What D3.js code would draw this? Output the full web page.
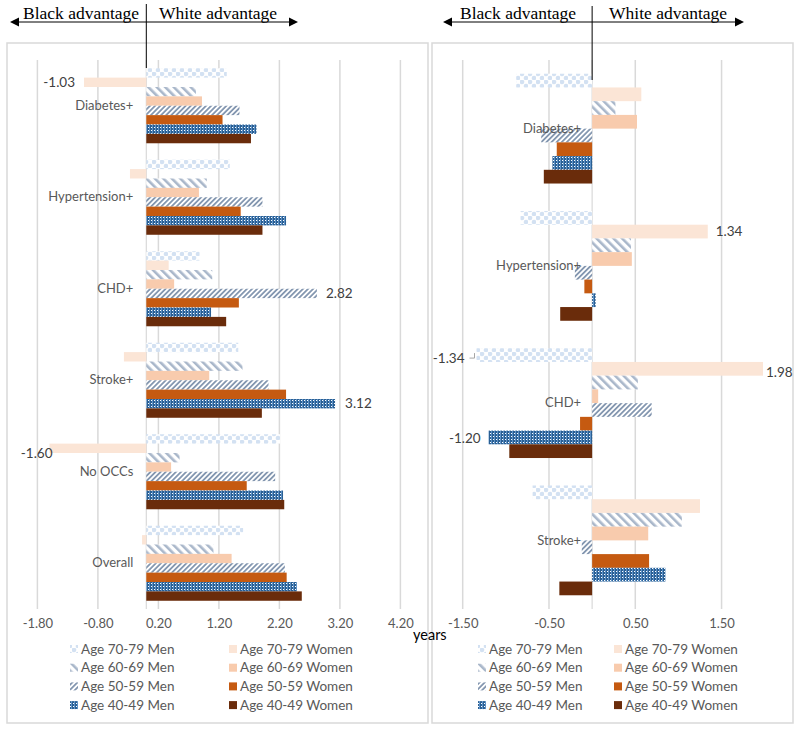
<!DOCTYPE html>
<html>
<head>
<meta charset="utf-8">
<script src="https://cdn.jsdelivr.net/npm/d3@7"></script>
<style>
  html, body { margin: 0; padding: 0; background: #fff; }
  svg { display: block; }
  text { font-family: "Lato", "Liberation Sans", sans-serif; }
</style>
</head>
<body>
<svg id="chart" width="800" height="731"></svg>
<script>
// ---------------- DATA ----------------
const seriesNames = ["Age 70-79 Men", "Age 70-79 Women", "Age 60-69 Men", "Age 60-69 Women",
                     "Age 50-59 Men", "Age 50-59 Women", "Age 40-49 Men", "Age 40-49 Women"];

const leftCategories  = ["Diabetes+", "Hypertension+", "CHD+", "Stroke+", "No OCCs", "Overall"];
const rightCategories = ["Diabetes+", "Hypertension+", "CHD+", "Stroke+"];

// Left panel values (years), one array per series, in leftCategories order
const leftMen7079   = [1.33, 1.38, 0.88, 1.52, 2.21, 1.60];
const leftWomen7079 = [-1.03, -0.27, 0.37, -0.37, -1.60, -0.07];
const leftMen6069   = [0.82, 1.00, 1.09, 1.59, 0.55, 1.11];
const leftWomen6069 = [0.92, 0.87, 0.46, 1.04, 0.41, 1.41];
const leftMen5059   = [1.54, 1.92, 2.82, 2.02, 2.13, 2.29];
const leftWomen5059 = [1.26, 1.56, 1.53, 2.31, 1.66, 2.32];
const leftMen4049   = [1.82, 2.31, 1.07, 3.12, 2.26, 2.49];
const leftWomen4049 = [1.73, 1.92, 1.32, 1.91, 2.28, 2.57];

// Right panel values (years), in rightCategories order
const rightMen7079   = [-0.88, -0.83, -1.34, -0.69];
const rightWomen7079 = [0.57, 1.34, 1.98, 1.25];
const rightMen6069   = [0.27, 0.45, 0.53, 1.04];
const rightWomen6069 = [0.52, 0.46, 0.07, 0.65];
const rightMen5059   = [-0.59, -0.20, 0.69, -0.12];
const rightWomen5059 = [-0.41, -0.09, -0.14, 0.66];
const rightMen4049   = [-0.46, 0.04, -1.20, 0.85];
const rightWomen4049 = [-0.56, -0.37, -0.96, -0.38];

const leftTicks  = [-1.8, -0.8, 0.2, 1.2, 2.2, 3.2, 4.2];
const rightTicks = [-1.5, -0.5, 0.5, 1.5];

// data labels shown: [category, series]
const leftLabelled  = [["Diabetes+", "Age 70-79 Women"], ["CHD+", "Age 50-59 Men"],
                       ["Stroke+", "Age 40-49 Men"], ["No OCCs", "Age 70-79 Women"]];
const rightLabelled = [["Hypertension+", "Age 70-79 Women"], ["CHD+", "Age 70-79 Women"],
                       ["CHD+", "Age 70-79 Men"], ["CHD+", "Age 40-49 Men"]];

const leftSeries  = [leftMen7079, leftWomen7079, leftMen6069, leftWomen6069,
                     leftMen5059, leftWomen5059, leftMen4049, leftWomen4049];
const rightSeries = [rightMen7079, rightWomen7079, rightMen6069, rightWomen6069,
                     rightMen5059, rightWomen5059, rightMen4049, rightWomen4049];

// ---------------- STYLES ----------------
const fills = ["url(#p7079m)", "#fbe5d6", "url(#p6069m)", "#f8cbad",
               "url(#p5059m)", "#c55a11", "url(#p4049m)", "#6a2c0b"];

const fmt = v => d3.format(".2f")(v).replace("\u2212", "-");

const svg = d3.select("#chart");
const defs = svg.append("defs");

// 70-79 Men : faint light-blue dotted pattern
let p = defs.append("pattern").attr("id", "p7079m").attr("patternUnits", "userSpaceOnUse")
  .attr("width", 8).attr("height", 8);
p.append("rect").attr("width", 8).attr("height", 8).attr("fill", "#ffffff");
p.append("circle").attr("cx", 2).attr("cy", 2).attr("r", 2.3).attr("fill", "#d3e1f2");
p.append("circle").attr("cx", 6).attr("cy", 6).attr("r", 2.3).attr("fill", "#d3e1f2");

// 60-69 Men : wide downward diagonal
p = defs.append("pattern").attr("id", "p6069m").attr("patternUnits", "userSpaceOnUse")
  .attr("width", 6).attr("height", 6).attr("patternTransform", "rotate(-45)");
p.append("rect").attr("width", 6).attr("height", 6).attr("fill", "#ffffff");
p.append("rect").attr("width", 2.6).attr("height", 6).attr("fill", "#a9b7ca");

// 50-59 Men : narrow upward diagonal
p = defs.append("pattern").attr("id", "p5059m").attr("patternUnits", "userSpaceOnUse")
  .attr("width", 3.6).attr("height", 3.6).attr("patternTransform", "rotate(45)");
p.append("rect").attr("width", 3.6).attr("height", 3.6).attr("fill", "#ffffff");
p.append("rect").attr("width", 1.8).attr("height", 3.6).attr("fill", "#8497b0");

// 40-49 Men : dark blue with white dotted grid
p = defs.append("pattern").attr("id", "p4049m").attr("patternUnits", "userSpaceOnUse")
  .attr("width", 3).attr("height", 3);
p.append("rect").attr("width", 3).attr("height", 3).attr("fill", "#2a5f93");
p.append("rect").attr("x", 2).attr("width", 1).attr("height", 3).attr("fill", "#5f93c8");
p.append("rect").attr("x", 1).attr("y", 1).attr("width", 1).attr("height", 1).attr("fill", "#ffffff");

const gridColor = "#d9d9d9";
const textColor = "#595959";

// ---------------- PANEL BUILDER ----------------
function drawPanel(cfg) {
  const g = svg.append("g");
  // border
  g.append("rect").attr("x", cfg.box[0]).attr("y", cfg.box[1])
    .attr("width", cfg.box[2]).attr("height", cfg.box[3])
    .attr("fill", "none").attr("stroke", gridColor).attr("stroke-width", 1.5);

  const x = d3.scaleLinear().domain(cfg.domain).range(cfg.xRange);
  const y0 = d3.scaleBand().domain(cfg.categories).range([60, 609]);
  const bw = y0.bandwidth();
  const y1 = d3.scaleBand().domain(seriesNames)
    .range([bw * (1 - cfg.groupFrac) / 2, bw * (1 + cfg.groupFrac) / 2]);

  // gridlines
  g.append("g").selectAll("line").data(cfg.ticks).join("line")
    .attr("x1", d => x(d)).attr("x2", d => x(d))
    .attr("y1", 60).attr("y2", 609)
    .attr("stroke", gridColor).attr("stroke-width", 1.5);
  // zero axis line
  g.append("line").attr("x1", x(0)).attr("x2", x(0)).attr("y1", 60).attr("y2", 609)
    .attr("stroke", gridColor).attr("stroke-width", 1.2);

  // tick labels
  const axis = d3.axisBottom(x).tickValues(cfg.ticks).tickSize(0).tickPadding(0)
    .tickFormat(fmt);
  const ax = g.append("g").attr("transform", "translate(0,619)").call(axis);
  ax.select(".domain").remove();
  ax.selectAll("text").attr("fill", textColor).style("font-size", "13px")
    .style("font-family", "Lato, 'Liberation Sans', sans-serif");

  // bars
  const rows = [];
  cfg.categories.forEach((c, ci) => {
    seriesNames.forEach((s, si) => rows.push({ c, s, si, v: cfg.series[si][ci] }));
  });
  g.append("g").selectAll("rect").data(rows).join("rect")
    .attr("x", d => x(Math.min(0, d.v)))
    .attr("width", d => Math.abs(x(d.v) - x(0)))
    .attr("y", d => y0(d.c) + y1(d.s))
    .attr("height", y1.bandwidth())
    .attr("fill", d => fills[d.si]);

  // category labels
  const cax = d3.axisLeft(y0).tickSize(0).tickPadding(cfg.catPad);
  const cg = g.append("g").attr("transform", `translate(${x(0)},0)`).call(cax);
  cg.select(".domain").remove();
  cg.selectAll("text").attr("fill", textColor).style("font-size", "13px")
    .style("font-family", "Lato, 'Liberation Sans', sans-serif");

  // data labels
  cfg.labelled.forEach(([c, s], i) => {
    const d = rows.find(r => r.c === c && r.s === s);
    const off = cfg.labelOffsets[i];
    const neg = d.v < 0;
    g.append("text")
      .attr("x", x(d.v) + (neg ? -off[0] : off[0]))
      .attr("y", y0(c) + y1(s) + y1.bandwidth() / 2 + off[1])
      .attr("dy", "0.35em")
      .attr("text-anchor", neg ? "end" : "start")
      .attr("fill", "#404040").style("font-size", "13.5px")
      .text(fmt(d.v));
  });

  // header annotation
  const hy = 22;
  g.append("text").attr("x", cfg.blackX).attr("y", 19)
    .style("font-family", "'Liberation Serif', 'Times New Roman', serif")
    .style("font-size", "17.5px").attr("fill", "#000").text("Black advantage");
  g.append("text").attr("x", cfg.whiteX).attr("y", 19)
    .style("font-family", "'Liberation Serif', 'Times New Roman', serif")
    .style("font-size", "17.5px").attr("fill", "#000").text("White advantage");
  g.append("line").attr("x1", cfg.arrow[0] + 8).attr("x2", cfg.arrow[1] - 8)
    .attr("y1", hy).attr("y2", hy).attr("stroke", "#000").attr("stroke-width", 1);
  g.append("path").attr("d", `M${cfg.arrow[0]},${hy} l9,-4.5 l0,9 Z`).attr("fill", "#000");
  g.append("path").attr("d", `M${cfg.arrow[1]},${hy} l-9,-4.5 l0,9 Z`).attr("fill", "#000");
  g.append("line").attr("x1", x(0)).attr("x2", x(0))
    .attr("y1", cfg.vline[0]).attr("y2", cfg.vline[1])
    .attr("stroke", "#000").attr("stroke-width", 1);

  // legend
  const lg = g.append("g");
  seriesNames.forEach((s, si) => {
    const col = si % 2, row = Math.floor(si / 2);
    const lx = cfg.legendX[col], ly = 649 + row * 18.7;
    lg.append("rect").attr("x", lx).attr("y", ly - 4).attr("width", 8).attr("height", 8)
      .attr("fill", fills[si]);
    lg.append("text").attr("x", lx + 11).attr("y", ly).attr("dy", "0.35em")
      .attr("fill", textColor).style("font-size", "13.5px").text(s);
  });
  return { x, y0, y1, g };
}

drawPanel({
  box: [7, 43, 421, 680],
  domain: [-1.8, 4.2], xRange: [37.4, 400.4],
  categories: leftCategories, series: leftSeries, ticks: leftTicks,
  groupFrac: 0.82, catPad: 13,
  labelled: leftLabelled,
  labelOffsets: [[9, 0], [9, 0], [10, 0], [-3, 5]],
  blackX: 23, whiteX: 159, arrow: [10, 298], vline: [4, 68],
  legendX: [70, 229]
});

const right = drawPanel({
  box: [432, 43, 361, 680],
  domain: [-1.5, 2.3], xRange: [462.7, 790.6],
  categories: rightCategories, series: rightSeries, ticks: rightTicks,
  groupFrac: 0.80, catPad: 11,
  labelled: rightLabelled,
  labelOffsets: [[8, 0], [3, 3], [12, 3], [8, 1]],
  blackX: 460, whiteX: 609, arrow: [443, 744], vline: [6, 80],
  legendX: [478, 614]
});

// small leader line for the -1.34 label
{
  const xr = right.x, cy = right.y0("CHD+") + right.y1("Age 70-79 Men") + right.y1.bandwidth() / 2;
  right.g.append("path")
    .attr("d", `M${xr(-1.34) - 7},${cy + 3} h5 v-5`)
    .attr("fill", "none").attr("stroke", "#a6a6a6").attr("stroke-width", 1);
}

// axis title
svg.append("text").attr("x", 413).attr("y", 640)
  .style("font-size", "14.5px").attr("fill", "#000").text("years");
</script>
</body>
</html>
